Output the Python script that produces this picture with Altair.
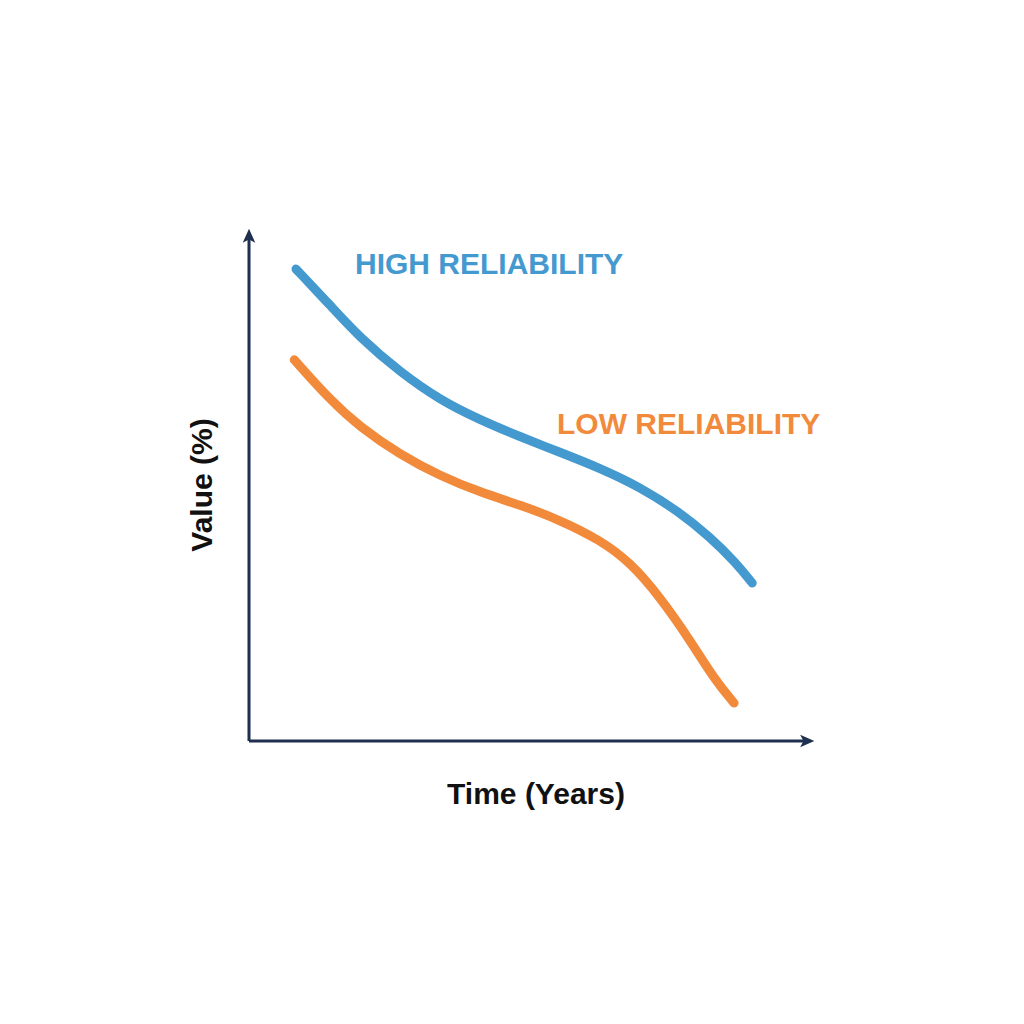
import altair as alt
import pandas as pd

# Curve values (x in years 0-10, y in % 0-100)
high_x = [0.83, 1.43, 1.96, 2.67, 3.37, 4.08, 4.79, 5.49, 6.20, 6.91, 7.61, 8.14, 8.59, 8.89]
high_y = [92.0, 85.0, 78.6, 71.9, 66.5, 62.6, 59.3, 56.3, 53.2, 49.5, 44.6, 39.8, 34.9, 30.8]
low_x = [0.80, 1.43, 1.96, 2.67, 3.37, 4.08, 4.79, 5.49, 6.20, 6.73, 7.26, 7.79, 8.23, 8.57]
low_y = [74.3, 66.5, 61.2, 55.8, 51.7, 48.5, 46.0, 43.1, 39.2, 34.9, 28.1, 19.7, 11.9, 7.4]
series_names = ["HIGH RELIABILITY", "LOW RELIABILITY"]
series_colors = ["#4499cf", "#f28a3c"]
x_title = "Time (Years)"
y_title = "Value (%)"

W, H = 566, 513
NAVY = "#1e2f4f"
FONT = "Liberation Sans"

df = pd.concat([
    pd.DataFrame({"t": high_x, "v": high_y, "s": series_names[0], "o": range(len(high_x))}),
    pd.DataFrame({"t": low_x, "v": low_y, "s": series_names[1], "o": range(len(low_x))}),
])

xs = alt.Scale(domain=[0, 10], nice=False, zero=False)
ys = alt.Scale(domain=[0, 100], nice=False, zero=False)

lines = alt.Chart(df).mark_line(strokeWidth=9, strokeCap="round", strokeJoin="round",
                                interpolate="basis").encode(
    x=alt.X("t:Q", scale=xs, axis=None),
    y=alt.Y("v:Q", scale=ys, axis=None),
    color=alt.Color("s:N", scale=alt.Scale(domain=series_names, range=series_colors), legend=None),
    order="o:Q",
)

base = alt.Chart(pd.DataFrame({"a": [0]}))

y_axis = base.mark_rule(color=NAVY, strokeWidth=3).encode(
    x=alt.value(0), y=alt.value(6), y2=alt.value(H))
x_axis = base.mark_rule(color=NAVY, strokeWidth=3).encode(
    x=alt.value(0), x2=alt.value(W - 6), y=alt.value(H))

arrow = "M0,-1 L0.75,0.7 L0,0.3 L-0.75,0.7 Z"
y_head = base.mark_point(shape=arrow, filled=True, color=NAVY, opacity=1, size=280).encode(
    x=alt.value(0), y=alt.value(9))
x_head = base.mark_point(shape=arrow, filled=True, color=NAVY, opacity=1, size=280, angle=90).encode(
    x=alt.value(W - 9), y=alt.value(H))

high_label = base.mark_text(align="left", baseline="middle", font=FONT, fontWeight="bold",
                            fontSize=30, color=series_colors[0]).encode(
    x=alt.value(106), y=alt.value(37), text=alt.value(series_names[0]))
low_label = base.mark_text(align="left", baseline="middle", font=FONT, fontWeight="bold",
                           fontSize=30, color=series_colors[1]).encode(
    x=alt.value(308), y=alt.value(197), text=alt.value(series_names[1]))

x_lab = base.mark_text(align="center", baseline="middle", font=FONT, fontWeight="bold",
                       fontSize=30, color="#111111").encode(
    x=alt.value(287), y=alt.value(567), text=alt.value(x_title))
y_lab = base.mark_text(align="center", baseline="middle", font=FONT, fontWeight="bold",
                       fontSize=30, color="#111111", angle=270).encode(
    x=alt.value(-46), y=alt.value(257), text=alt.value(y_title))

chart = alt.layer(lines, y_axis, x_axis, y_head, x_head, high_label, low_label, x_lab, y_lab).properties(
    width=W, height=H,
    autosize=alt.AutoSizeParams(type="none"),
    padding={"left": 249, "top": 228, "right": 209, "bottom": 283},
    background="white",
).configure_view(stroke=None)

chart.save("out.html", embed_options={"renderer": "svg", "actions": False})
